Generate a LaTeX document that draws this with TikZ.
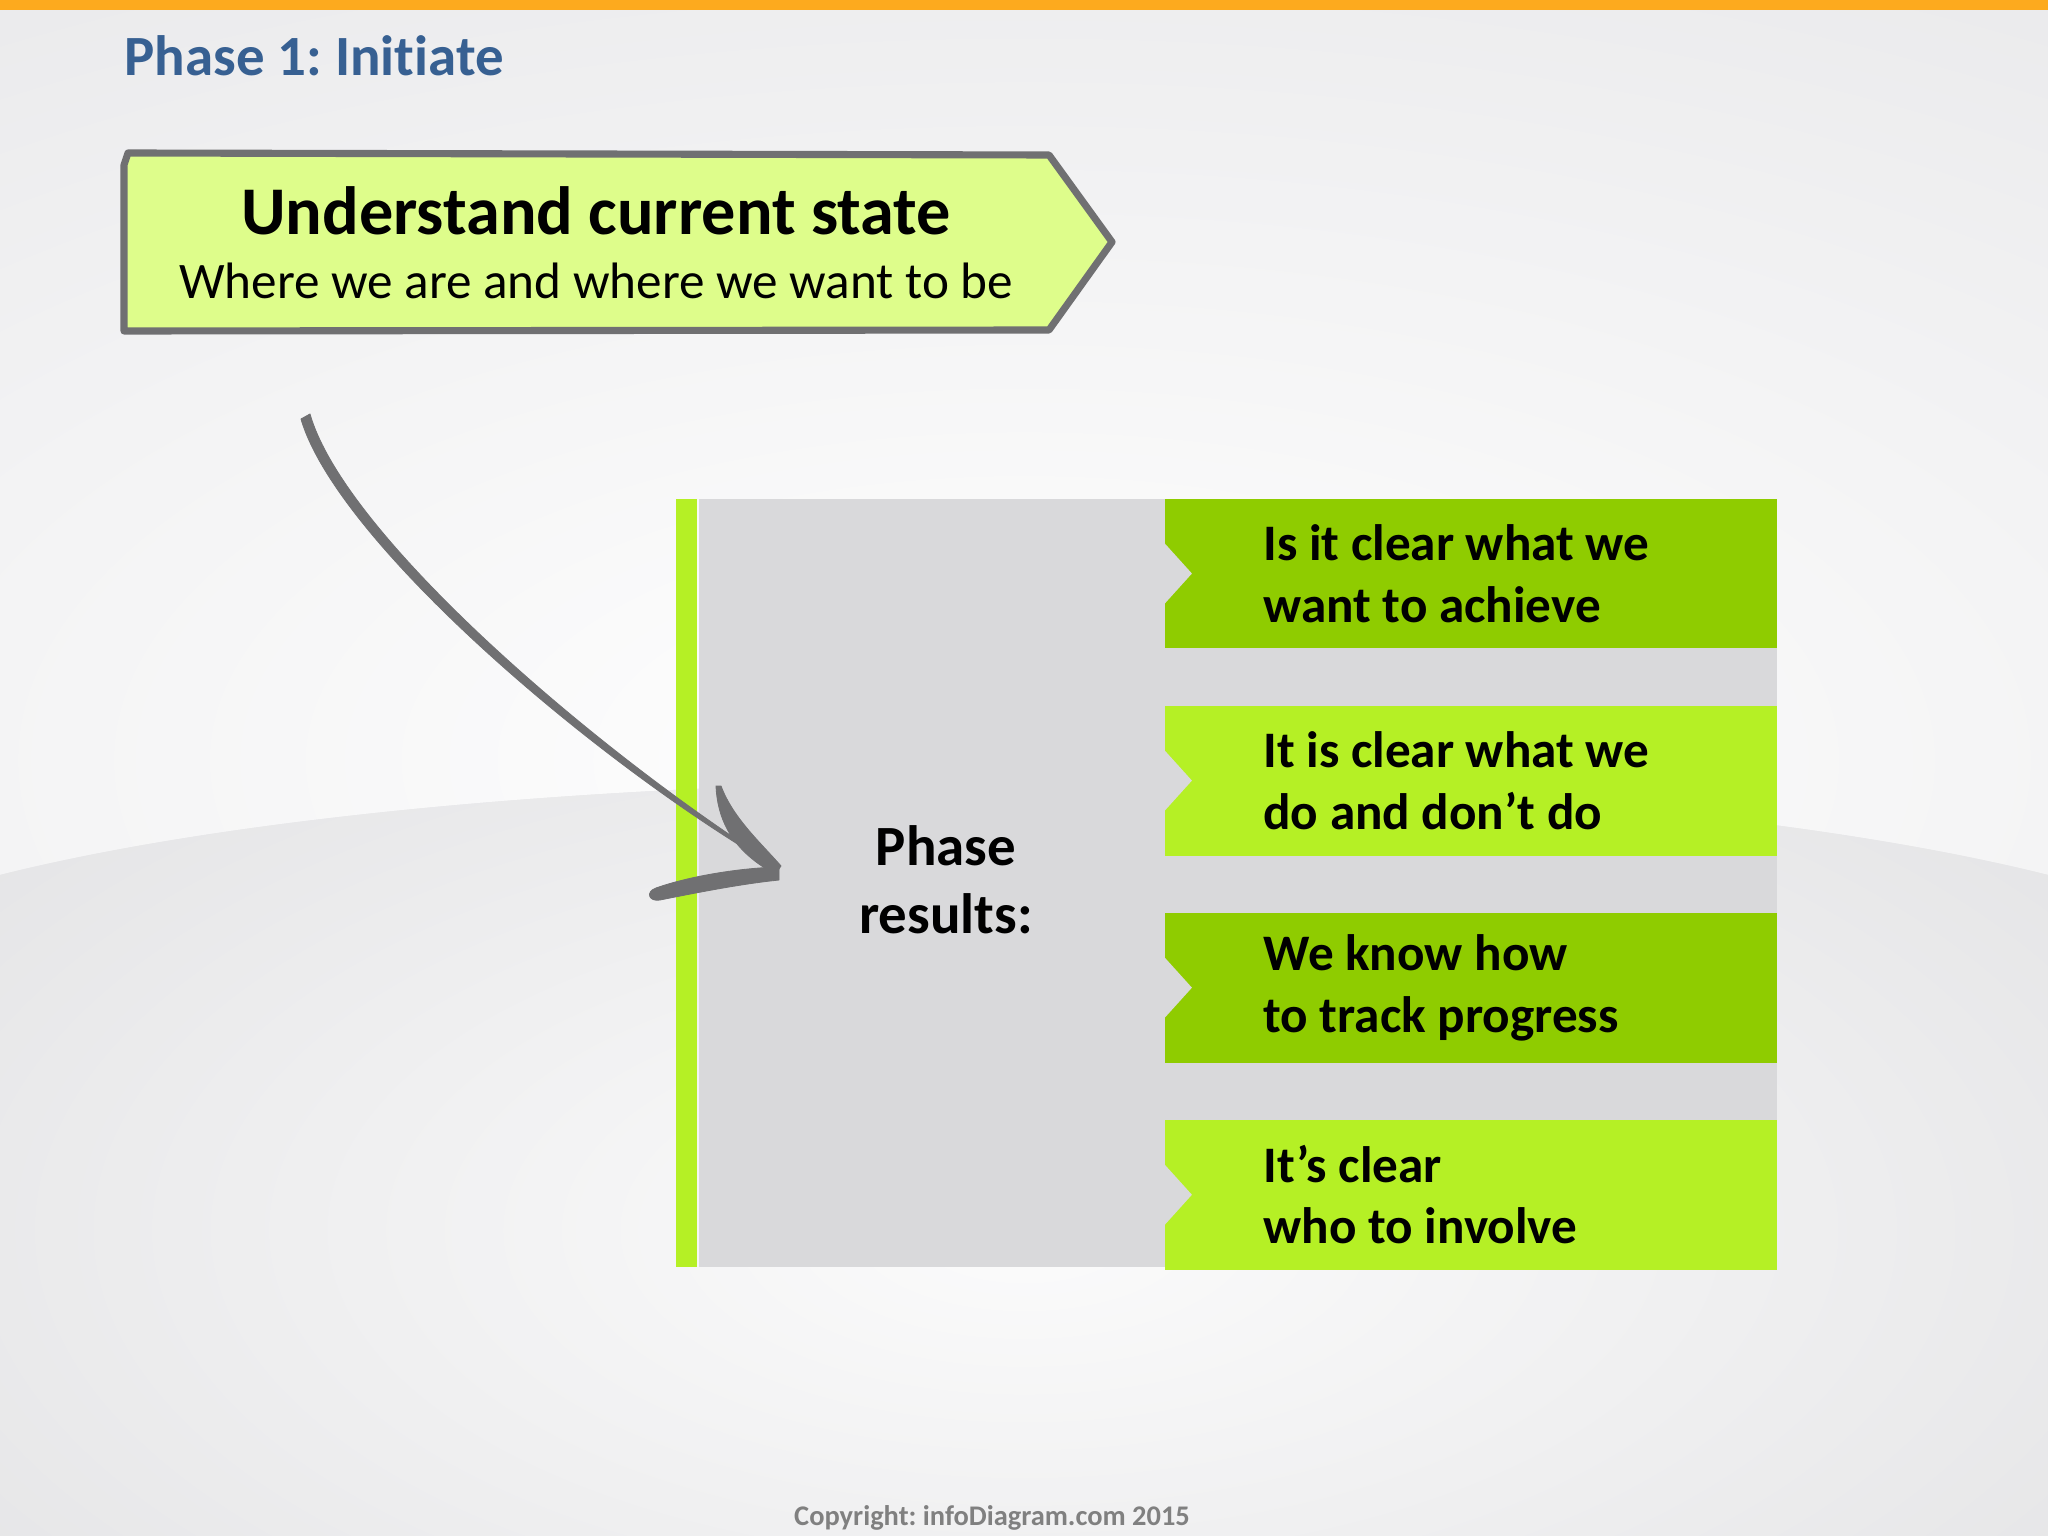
\documentclass[tikz,border=0pt]{standalone}
\usepackage{fontspec}
\setmainfont{Carlito}[Ligatures=NoCommon]
\usetikzlibrary{positioning}
\usetikzlibrary{calc}
\usepackage{xcolor}
\definecolor{idorange}{RGB}{253,170,30}
\definecolor{idblue}{RGB}{55,96,146}
\definecolor{idgray}{RGB}{112,112,114}
\definecolor{idpale}{RGB}{222,253,139}
\definecolor{iddark}{RGB}{143,204,0}
\definecolor{idlight}{RGB}{181,240,37}
\definecolor{idpanel}{RGB}{217,217,219}
\definecolor{idback}{RGB}{231,231,233}
\definecolor{idcopy}{RGB}{128,128,128}
\frenchspacing

\begin{document}
\begin{tikzpicture}[x=0.3515625pt,y=-0.3515625pt]

		\tikzstyle{tabdark} = [rectangle, fill=iddark, minimum width=215.2pt, minimum height=52.7pt, inner sep=0pt, text width=145.6pt, align=flush left, font=\fontsize{18}{21.6}\selectfont\bfseries]
		\tikzstyle{tablight} = [tabdark, fill=idlight]
		\tikzstyle{pen} = [fill=idgray, draw=idgray, line width=0.3pt, line join=round]

		% background
		\useasboundingbox (0,0) rectangle (2048,1536);
		\fill [idback] (0,0) rectangle (2048,1536);
		\shade [inner color=white, outer color=idback] (1024,760) ellipse (2300 and 1050);
		\begin{scope}
			\clip (0,875) .. controls (500,750) and (1548,750) .. (2048,875) -- (2048,1536) -- (0,1536) -- cycle;
			\fill [idback] (0,700) rectangle (2048,1536);
			\shade [inner color=white!85!idback, outer color=idback!97!black] (1024,1230) ellipse (1600 and 760);
		\end{scope}
		\fill [idorange] (0,0) rectangle (2048,10);

		% title
		\node [anchor=base west, inner sep=0pt, text=idblue, font=\fontsize{20}{24}\selectfont\bfseries] (t1) at (124,76) {Phase 1: Initiate};

		% header arrow
		\filldraw [fill=idpale, draw=idgray, line width=2.5pt, line join=round] (128,153) -- (1049,155) -- (1112,242) -- (1049,330) -- (124,331) -- (124,165) -- cycle;
		\node [anchor=base, font=\fontsize{24}{28.8}\selectfont\bfseries] (h1) at (596,235) {Understand current state};
		\node [below=22.5pt of h1.base, anchor=base, font=\fontsize{18}{21.6}\selectfont] (h2) {Where we are and where we want to be};

		% panel
		\node [rectangle, fill=idpanel, minimum width=379pt, minimum height=270pt, inner sep=0pt, anchor=north west] (p1) at (698,498) {};
		\node [rectangle, fill=idlight, minimum width=7.7pt, minimum height=270pt, inner sep=0pt, left=0pt of p1] (p0) {};
		\node [align=center, font=\fontsize{20}{24}\selectfont\bfseries] (p2) at (946,880) {Phase\\results:};

		% tabs
		\node [tabdark, anchor=north east] (r1) at (p1.north east) {Is it clear what we\\want to achieve};
		\node [tablight, below=19.7pt of r1] (r2) {It is clear what we\\do and don’t do};
		\node [tabdark, below=19.7pt of r2] (r3) {We know how\\to track progress};
		\node [tablight, below=19.7pt of r3] (r4) {It’s clear\\who to involve};
		\foreach \r in {r1,r2,r3,r4}
			\fill [idpanel] ($(\r.west)+(0,-31)$) -- ($(\r.west)+(28,0)$) -- ($(\r.west)+(0,31)$) -- cycle;

		% Arrow
		\coordinate (s1) at (310,414);
		\coordinate (e1) at (779,867);
		\filldraw [pen] (s1) .. controls (345,537) and (603,757) .. (e1) -- (779,869) .. controls (598,765) and (337,542) .. (301,419) -- cycle;
		\filldraw [pen] (716,786) .. controls (718,830) and (742,856) .. (775,874) -- (781,866) .. controls (760,842) and (733,818) .. (721,786) -- cycle;
		\filldraw [pen] (e1) .. controls (740,868) and (690,876) .. (656,888) .. controls (645,892) and (649,902) .. (660,900) .. controls (695,893) and (740,884) .. (779,880) -- cycle;

		% copyright
		\node [anchor=base, text=idcopy, font=\fontsize{10}{12}\selectfont\bfseries] (c1) at (992,1525) {Copyright: infoDiagram.com 2015};

	\end{tikzpicture}
\end{document}
